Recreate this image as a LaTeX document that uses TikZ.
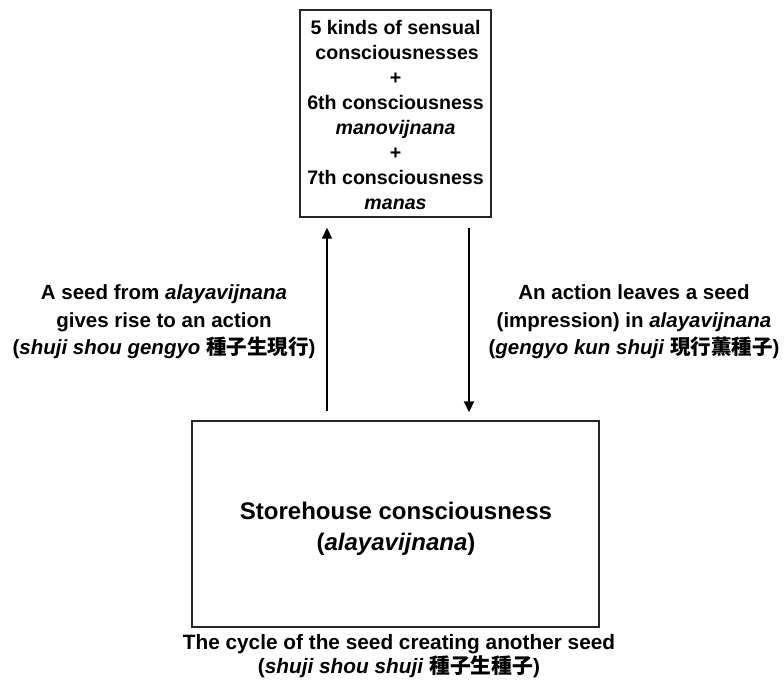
\documentclass[tikz,border=0pt]{standalone}
\usepackage{fontspec}
\setmainfont{Liberation Sans}
\newfontfamily\cjk{Noto Sans CJK JP}
\usetikzlibrary{arrows.meta}

\tikzset{
  box/.style={draw=black!85, line width=1.4pt, inner sep=0pt},
  label/.style={align=center, font=\fontsize{20.5}{27.5}\selectfont\bfseries, inner sep=0pt},
  boxtext/.style={align=center, font=\fontsize{19.6}{25}\selectfont\bfseries, inner sep=0pt},
  arr/.style={line width=1.8pt, -{Triangle[length=11pt,width=10pt]}}
}

\begin{document}
\begin{tikzpicture}[x=1pt, y=-1pt]
  \useasboundingbox (0,0) rectangle (784,684);

  % the two consciousness boxes
  \node[box, minimum width=191pt, minimum height=207pt] (minds) at (395.5,113.5) {};
  \node[box, minimum width=407pt, minimum height=206pt] (store) at (395.5,524) {};

  % text inside the top box
  \node[boxtext] (mindstext) at (395.5,115) {5 kinds of sensual\\ \,consciousnesses\\+\\6th consciousness\\\textit{manovijnana}\\+\\7th consciousness\\\textit{manas}};

  % text inside the storehouse box
  \node[label, font=\fontsize{24}{31}\selectfont\bfseries] (storetext) at (396,529) {Storehouse consciousness\\(\textit{alayavijnana})};

  % side labels
  \node[label] (rise) at (164,322) {A seed from \textit{alayavijnana}\\gives rise to an action\\(\textit{shuji shou gengyo} {\cjk 種子生現行})};
  \node[label] (leave) at (634,322) {An action leaves a seed\\(impression) in \textit{alayavijnana}\\(\textit{gengyo kun shuji} {\cjk 現行薫種子})};

  % caption under the storehouse
  \node[label, font=\fontsize{20.8}{24.5}\selectfont\bfseries] (cycle) at (399,656) {The cycle of the seed creating another seed\\(\textit{shuji shou shuji} {\cjk 種子生種子})};

  % the two arrows
  \coordinate (upx) at (327,0);
  \coordinate (downx) at (469,0);
  \draw[arr, shorten <=9pt, shorten >=10pt] (store.north -| upx) -- (minds.south -| upx);
  \draw[arr, shorten <=10pt, shorten >=8pt] (minds.south -| downx) -- (store.north -| downx);
\end{tikzpicture}
\end{document}
